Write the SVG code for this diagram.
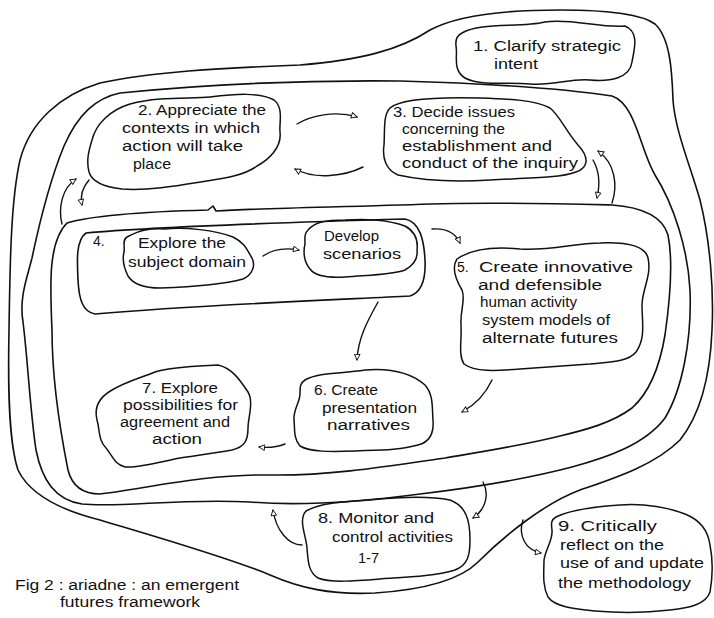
<svg xmlns="http://www.w3.org/2000/svg" width="714" height="618" viewBox="0 0 714 618">
<defs>
<style>
.ln{fill:none;stroke:#111;stroke-width:1.6;stroke-linecap:round;stroke-linejoin:round}
.cl{fill:none;stroke:#111;stroke-width:1.5;stroke-linejoin:round}
.t{font-family:"Liberation Sans","DejaVu Sans",sans-serif;font-size:14px;fill:#111}
.cn{fill:none;stroke:#111;stroke-width:1.4;stroke-linecap:round}
</style>
<marker id="ah" viewBox="0 0 10 10" refX="9" refY="5" markerWidth="7" markerHeight="7" markerUnits="userSpaceOnUse" orient="auto">
<path d="M1,1 L9,5 L1,9 Z" fill="#fff" stroke="#111" stroke-width="1.3"/>
</marker>
</defs>
<rect width="714" height="618" fill="#fff"/>

<g id="loops">
<path id="loop1" class="ln" d="M560,10 C600,10 640,13 655,24 C670,38 672,70 673,100 C675,130 690,165 700,200 C710,240 714,290 712,330 C710,380 700,415 680,440 C655,465 615,478 580,490 C545,503 505,535 478,562 C458,582 420,590 375,593 C330,595 300,588 270,575 C230,558 150,535 100,520 C60,510 30,495 18,470 C8,440 8,380 9,330 C10,260 11,200 20,160 C30,122 60,95 100,83 C150,72 220,68 300,65 C360,60 400,50 430,30 C460,14 510,10 560,10 Z"/>
<path id="loop2" class="ln" d="M120,93 C200,85 300,80 400,81 C470,83 560,88 612,96 C636,104 640,150 655,175 C674,205 688,250 690,290 C692,340 682,390 665,418 C645,445 605,458 572,467 C530,478 470,488 420,494 C360,502 300,506 250,502 C180,498 120,508 82,504 C55,500 42,480 36,450 C30,410 28,362 23,322 C19,298 27,278 32,258 C40,220 50,180 64,146 C78,114 96,98 120,93 Z"/>
<path id="loop3" class="ln" d="M67,223 C100,213 170,211 208,210 L213,206 L216,211 C260,208 350,207 430,204 C490,202 570,204 612,205 C640,207 662,215 668,235 C673,260 670,300 665,335 C660,365 650,392 632,408 C612,423 585,430 560,436 C520,446 480,452 445,458 C390,466 330,476 270,475 C200,474 140,490 100,494 C82,494 72,486 68,470 C60,430 52,380 52,330 C50,285 48,242 67,223 Z"/>
<path id="loop4" class="ln" d="M86,233 C150,227 300,222 405,219 C420,222 424,240 425,260 C426,280 422,292 410,296 C330,300 200,305 95,314 C83,312 79,300 78,280 C77,260 76,240 86,233 Z"/>
</g>

<g id="n1">
<path class="cl" d="M462,33 C480,22 520,28 545,22 C570,18 600,28 625,26 C640,32 634,50 632,62 C630,78 610,82 590,80 C570,78 555,86 530,84 C505,82 480,86 465,78 C452,70 458,55 456,46 C455,38 458,35 462,33 Z"/>
<text class="t" x="473" y="51" textLength="148" lengthAdjust="spacingAndGlyphs" font-size="15">1. Clarify strategic</text>
<text class="t" x="494" y="69" textLength="44" lengthAdjust="spacingAndGlyphs">intent</text>
</g>

<g id="n2">
<path class="cl" d="M130,104 C160,96 190,99 210,97 C235,94 260,92 274,100 C284,108 279,123 280,132 C282,148 268,160 257,166 C245,175 226,178 207,181 C182,185 150,191 122,189 C104,187 92,182 89,172 C86,160 89,150 92,140 C96,124 110,110 130,104 Z"/>
<text class="t" x="138" y="115" textLength="128" lengthAdjust="spacingAndGlyphs">2. Appreciate the</text>
<text class="t" x="122" y="133" textLength="138" lengthAdjust="spacingAndGlyphs">contexts in which</text>
<text class="t" x="122" y="151" textLength="121" lengthAdjust="spacingAndGlyphs">action will take</text>
<text class="t" x="133" y="169" textLength="38" lengthAdjust="spacingAndGlyphs">place</text>
</g>

<g id="n3">
<path class="cl" d="M390,108 C400,99 440,97 480,98 C510,99 535,100 550,108 C560,116 565,130 578,145 C590,158 588,168 576,172 C560,178 530,178 490,180 C455,182 420,180 398,175 C386,170 382,158 384,145 C385,130 383,115 390,108 Z"/>
<text class="t" x="393" y="117" textLength="122" lengthAdjust="spacingAndGlyphs">3. Decide issues</text>
<text class="t" x="402" y="134" textLength="103" lengthAdjust="spacingAndGlyphs">concerning the</text>
<text class="t" x="402" y="151" textLength="150" lengthAdjust="spacingAndGlyphs">establishment and</text>
<text class="t" x="402" y="168" textLength="176" lengthAdjust="spacingAndGlyphs">conduct of the inquiry</text>
</g>

<g id="n4">
<text class="t" x="93" y="246">4.</text>
<path class="cl" d="M127,237 C140,230 150,228 165,229 C185,227 215,230 233,237 C245,243 247,250 252,258 C256,266 252,275 243,279 C225,284 190,287 160,288 C145,288 133,284 128,276 C124,268 122,260 124,252 C125,246 122,240 127,237 Z"/>
<text class="t" x="138" y="248" textLength="88" lengthAdjust="spacingAndGlyphs">Explore the</text>
<text class="t" x="128" y="267" textLength="118" lengthAdjust="spacingAndGlyphs">subject domain</text>
</g>

<g id="n4b">
<path class="cl" d="M308,230 C315,222 325,220 345,220 C365,219 385,219 405,226 C416,232 418,242 417,250 C418,258 414,265 405,270 C392,275 370,275 345,277 C328,278 315,276 310,269 C304,262 303,252 305,244 C305,238 304,234 308,230 Z"/>
<text class="t" x="324" y="241" textLength="55" lengthAdjust="spacingAndGlyphs">Develop</text>
<text class="t" x="323" y="259" textLength="78" lengthAdjust="spacingAndGlyphs">scenarios</text>
</g>

<g id="n5">
<path class="cl" d="M457,259 C470,250 490,246 520,249 C550,251 575,243 600,243 C625,242 645,245 648,258 C652,275 642,290 642,305 C642,322 646,338 636,352 C628,362 610,362 590,364 C565,366 545,367 520,369 C495,371 475,372 464,364 C458,355 462,340 461,325 C460,310 466,300 462,290 C456,280 451,268 457,259 Z"/>
<text class="t" x="457" y="272" font-size="12">5.</text>
<text class="t" x="479" y="272" textLength="154" lengthAdjust="spacingAndGlyphs" font-size="15">Create innovative</text>
<text class="t" x="478" y="290" textLength="124" lengthAdjust="spacingAndGlyphs">and defensible</text>
<text class="t" x="480" y="307" textLength="97" lengthAdjust="spacingAndGlyphs">human activity</text>
<text class="t" x="482" y="325" textLength="128" lengthAdjust="spacingAndGlyphs">system models of</text>
<text class="t" x="482" y="343" textLength="136" lengthAdjust="spacingAndGlyphs">alternate futures</text>
</g>

<g id="n6">
<path class="cl" d="M305,380 C320,372 340,374 365,370 C390,368 410,372 425,385 C434,395 432,410 433,420 C434,432 430,442 418,445 C400,450 380,450 355,451 C330,452 310,452 300,446 C293,438 295,428 294,420 C293,410 300,402 300,394 C300,387 300,383 305,380 Z"/>
<text class="t" x="314" y="395" textLength="64" lengthAdjust="spacingAndGlyphs">6. Create</text>
<text class="t" x="322" y="413" textLength="95" lengthAdjust="spacingAndGlyphs">presentation</text>
<text class="t" x="327" y="430" textLength="83" lengthAdjust="spacingAndGlyphs">narratives</text>
</g>

<g id="n7">
<path class="cl" d="M112,390 C125,382 140,378 155,372 C175,366 200,366 218,365 C232,368 240,380 248,392 C254,402 248,418 248,428 C248,440 245,447 232,450 C215,453 200,455 180,458 C160,462 140,468 125,467 C114,464 112,455 106,448 C98,440 100,430 97,420 C94,408 98,398 112,390 Z"/>
<text class="t" x="142" y="393" textLength="76" lengthAdjust="spacingAndGlyphs">7. Explore</text>
<text class="t" x="123" y="410" textLength="115" lengthAdjust="spacingAndGlyphs">possibilities for</text>
<text class="t" x="120" y="427" textLength="110" lengthAdjust="spacingAndGlyphs">agreement and</text>
<text class="t" x="152" y="444" textLength="50" lengthAdjust="spacingAndGlyphs">action</text>
</g>

<g id="n8">
<path class="cl" d="M306,511 C320,503 340,502 370,500 C400,497 430,496 450,500 C466,506 470,520 470,540 C470,555 468,565 455,570 C435,576 410,577 380,579 C355,581 330,583 318,578 C308,572 308,560 307,548 C306,535 298,520 306,511 Z"/>
<text class="t" x="318" y="523" textLength="116" lengthAdjust="spacingAndGlyphs">8. Monitor and</text>
<text class="t" x="332" y="542" textLength="121" lengthAdjust="spacingAndGlyphs">control activities</text>
<text class="t" x="358" y="563" textLength="21" lengthAdjust="spacingAndGlyphs">1-7</text>
</g>

<g id="n9">
<path class="cl" d="M556,517 C570,510 590,507 620,505 C645,503 670,508 685,514 C700,520 708,530 710,545 C713,560 713,575 710,592 C706,604 690,608 670,610 C645,613 620,613 595,611 C575,609 555,607 548,597 C542,585 544,572 544,560 C546,548 553,540 552,530 C551,523 551,520 556,517 Z"/>
<text class="t" x="558" y="531" textLength="99" lengthAdjust="spacingAndGlyphs">9. Critically</text>
<text class="t" x="560" y="550" textLength="104" lengthAdjust="spacingAndGlyphs">reflect on the</text>
<text class="t" x="560" y="568" textLength="144" lengthAdjust="spacingAndGlyphs">use of and update</text>
<text class="t" x="558" y="588" textLength="133" lengthAdjust="spacingAndGlyphs">the methodology</text>
</g>

<g id="caption">
<text class="t" x="15" y="590" textLength="224" lengthAdjust="spacingAndGlyphs">Fig 2 : ariadne : an emergent</text>
<text class="t" x="60" y="607" textLength="140" lengthAdjust="spacingAndGlyphs">futures framework</text>
</g>

<g id="connectors">
<path class="cn" marker-end="url(#ah)" d="M297,124 C310,116 335,110 357,117"/>
<path class="cn" marker-end="url(#ah)" d="M363,167 C345,176 315,180 295,169"/>
<path class="cn" marker-end="url(#ah)" d="M89,180 C82,188 80,196 82,205"/>
<path class="cn" marker-end="url(#ah)" d="M62,224 C58,208 62,188 76,179"/>
<path class="cn" marker-end="url(#ah)" d="M263,256 C275,248 288,248 299,250"/>
<path class="cn" marker-end="url(#ah)" d="M432,229 C445,228 455,232 460,243"/>
<path class="cn" marker-end="url(#ah)" d="M378,302 C368,320 358,338 357,360"/>
<path class="cn" marker-end="url(#ah)" d="M492,380 C485,395 475,405 462,412"/>
<path class="cn" marker-end="url(#ah)" d="M285,444 C275,448 268,448 259,447"/>
<path class="cn" marker-end="url(#ah)" d="M483,482 C490,495 485,510 473,518"/>
<path class="cn" marker-end="url(#ah)" d="M302,545 C288,545 276,530 273,510"/>
<path class="cn" marker-end="url(#ah)" d="M523,520 C518,535 525,550 541,553"/>
<path class="cn" marker-end="url(#ah)" d="M593,160 C600,172 600,185 597,198"/>
<path class="cn" marker-end="url(#ah)" d="M612,203 C618,185 615,163 598,151"/>
</g>
</svg>
